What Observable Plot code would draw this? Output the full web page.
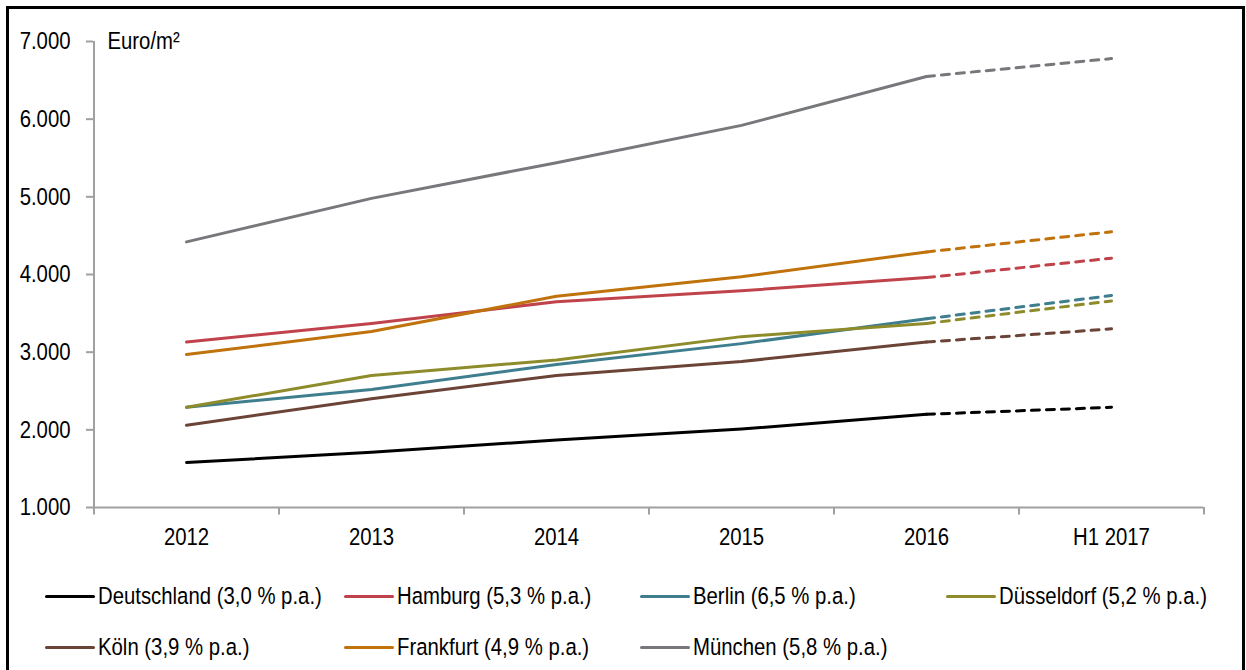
<!DOCTYPE html>
<html>
<head>
<meta charset="utf-8">
<script src="https://cdn.jsdelivr.net/npm/d3@7"></script>
<script src="https://cdn.jsdelivr.net/npm/@observablehq/plot@0.6"></script>
<style>
  body { margin: 0; background: #fff; }
  #wrap {
    position: relative; width: 1246px; height: 670px; overflow: hidden; background: #fff;
    font-family: "Liberation Sans", Arial, sans-serif;
  }
  #frame {
    position: absolute; left: 6px; top: 6px; width: 1239px; height: 720px;
    border: 3px solid #000; box-sizing: border-box; pointer-events: none;
  }
  #chart { position: absolute; left: 0; top: 0; }
  .item {
    position: absolute; display: flex; align-items: center;
    font-size: 24.5px; line-height: 28px; color: #000; white-space: nowrap;
  }
  .swatch { width: 50px; height: 3px; margin-right: 3px; border-radius: 1.5px; flex: none; }
  /* narrow lettering: compress the sans face horizontally */
  .label { display: inline-block; transform: scaleX(0.83); transform-origin: left center; }
</style>
</head>
<body>
<div id="wrap">
  <div id="chart"></div>
  <div id="legend"></div>
  <div id="frame"></div>
</div>
<script>
// Periods on the x axis
const periods = ["2012", "2013", "2014", "2015", "2016", "H1 2017"];

// Series labels (with average annual growth) and colours
const seriesLabels = [
  "Deutschland (3,0 % p.a.)",
  "Hamburg (5,3 % p.a.)",
  "Berlin (6,5 % p.a.)",
  "Düsseldorf (5,2 % p.a.)",
  "Köln (3,9 % p.a.)",
  "Frankfurt (4,9 % p.a.)",
  "München (5,8 % p.a.)"
];
const seriesColors = ["#000000", "#c0434b", "#3e7e8e", "#8e8b2b", "#6b4437", "#c0720c", "#77787b"];

// Average price, Euro/m²
const deutschland = [1580, 1710, 1870, 2010, 2200, 2290];
const hamburg     = [3130, 3370, 3650, 3790, 3960, 4210];
const berlin      = [2290, 2520, 2840, 3110, 3430, 3730];
const duesseldorf = [2290, 2700, 2900, 3200, 3370, 3660];
const koeln       = [2060, 2400, 2700, 2880, 3130, 3300];
const frankfurt   = [2970, 3265, 3720, 3970, 4290, 4550];
const muenchen    = [4420, 4980, 5440, 5920, 6550, 6780];

const yTicks = [1000, 2000, 3000, 4000, 5000, 6000, 7000];

const seriesValues = [deutschland, hamburg, berlin, duesseldorf, koeln, frankfurt, muenchen];

// Long table: one row per series and period
const rows = [];
seriesValues.forEach((vals, s) => {
  vals.forEach((v, i) => rows.push({ name: seriesLabels[s], period: periods[i], value: v, i }));
});
const actual = rows.filter(d => d.i <= 4);     // 2012–2016, solid
const halfYear = rows.filter(d => d.i >= 4);   // 2016–H1 2017, dashed

const de = d3.formatLocale({ decimal: ",", thousands: ".", grouping: [3], currency: ["", " €"] });
const fmt = de.format(",");

const W = 1246, H = 560;
const mLeft = 93, mRight = 43;
const step = (W - mLeft - mRight) / periods.length;
const axisGray = "#a0a0a0";
const font = '"Liberation Sans", Arial, sans-serif';
const narrow = 0.83;

const chart = Plot.plot({
  width: W,
  height: H,
  marginLeft: mLeft,
  marginRight: mRight,
  marginTop: 41,
  marginBottom: 53,
  style: { fontFamily: font, fontSize: "24.5px", color: "#000", background: "transparent" },
  x: { type: "point", domain: periods, padding: 0.5 },
  y: { domain: [1000, 7000] },
  color: { domain: seriesLabels, range: seriesColors },
  marks: [
    // axis lines
    Plot.ruleY([1000], { stroke: axisGray, strokeWidth: 2 }),
    Plot.ruleX([periods[0]], { dx: -step / 2, y1: 1000, y2: 7000, stroke: axisGray, strokeWidth: 2 }),
    // category boundary ticks below the x axis
    Plot.ruleX(periods, { dx: -step / 2, y1: 1000, y2: 905, stroke: axisGray, strokeWidth: 2 }),
    Plot.ruleX([periods[periods.length - 1]], { dx: step / 2, y1: 1000, y2: 905, stroke: axisGray, strokeWidth: 2 }),
    Plot.axisY({ ticks: yTicks, tickFormat: fmt, tickSize: 7, tickPadding: 16, stroke: axisGray, fill: "#000", strokeWidth: 2, label: null }),
    Plot.axisX({ tickSize: 0, tickPadding: 20, fill: "#000", label: null }),
    Plot.text(["Euro/m²"], { frameAnchor: "top-left", dx: 14, textAnchor: "start", lineAnchor: "middle", fill: "#000" }),
    // price lines
    Plot.line(actual, { x: "period", y: "value", z: "name", stroke: "name", strokeWidth: 3, strokeLinecap: "round", strokeLinejoin: "round" }),
    Plot.line(halfYear, { x: "period", y: "value", z: "name", stroke: "name", strokeWidth: 3, strokeDasharray: "8,7", strokeLinecap: "round" })
  ]
});

// compress every label horizontally around its own anchor
chart.querySelectorAll("text").forEach(t => {
  const tr = t.getAttribute("transform") || "";
  t.setAttribute("transform", (tr + ` scale(${narrow},1)`).trim());
});
document.getElementById("chart").appendChild(chart);

// Legend: two rows of line swatches
const legendCols = [45, 344, 640, 946];
const legendRows = [596, 647];
const legend = document.getElementById("legend");
seriesLabels.forEach((label, k) => {
  const item = document.createElement("div");
  item.className = "item";
  item.style.left = legendCols[k % 4] + "px";
  item.style.top = (legendRows[Math.floor(k / 4)] - 14) + "px";
  const sw = document.createElement("span");
  sw.className = "swatch";
  sw.style.background = seriesColors[k];
  const tx = document.createElement("span");
  tx.className = "label";
  tx.textContent = label;
  item.appendChild(sw);
  item.appendChild(tx);
  legend.appendChild(item);
});
</script>
</body>
</html>
